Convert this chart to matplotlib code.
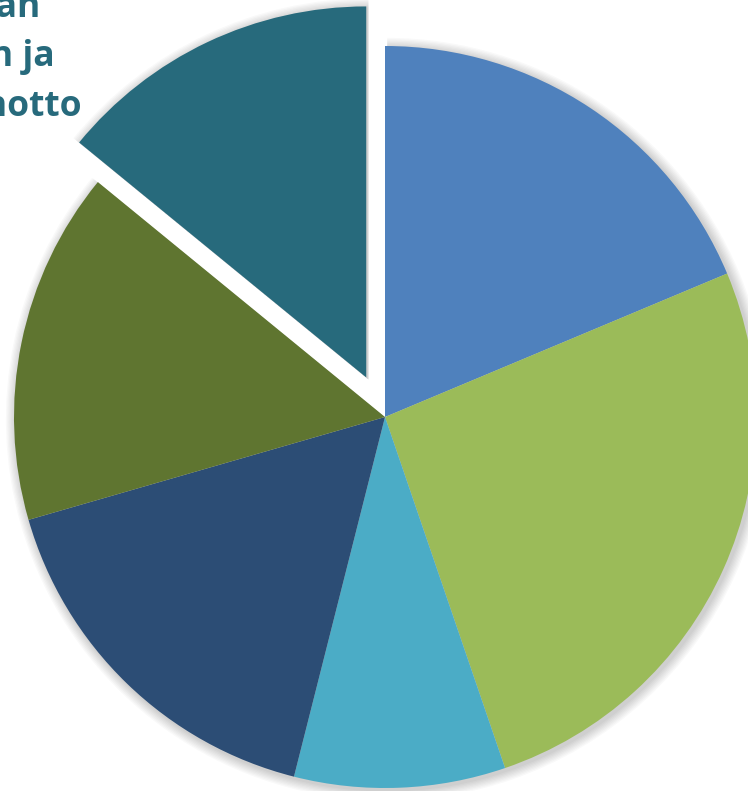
import numpy as np
import matplotlib.pyplot as plt

# slice shares (%), clockwise from 12 o'clock
values = [18.7, 26.1, 9.2, 16.6, 15.4, 14.1]
colors = ['#4F81BD', '#9BBB59', '#4BACC6', '#2C4D75', '#5F7530', '#276A7C']
explode = [0, 0, 0, 0, 0, 0.118]
label_text = 'Kanavan\ntietojen ja\nkäyttöönotto'

fig = plt.figure(figsize=(7.48, 7.91), dpi=100)
ax = fig.add_axes([0, 0, 1, 1])
ax.set_axis_off()

R = 371.0
cx, cy = 385.0, 417.0

# soft shadow: stacked translucent copies
for k in range(1, 9):
    ax.pie(values, explode=explode, startangle=90, counterclock=False,
           radius=1 + 0.0035 * k, center=(0.006, -0.006),
           colors=[(0, 0, 0, 0.022)] * len(values),
           wedgeprops=dict(linewidth=0))

ax.pie(values, explode=explode, startangle=90, counterclock=False,
       colors=colors, wedgeprops=dict(linewidth=0))
ax.set_xlim(-cx / R, (748 - cx) / R)
ax.set_ylim(-(791 - cy) / R, cy / R)
ax.set_aspect('equal')

ax.text((82 - cx) / R, (cy - 116) / R, label_text, ha='right', va='baseline',
        multialignment='center', fontsize=25.5, fontweight='bold',
        family='Open Sans', color='#276A7C', linespacing=1.5)

fig.savefig('out.png', dpi=100)
